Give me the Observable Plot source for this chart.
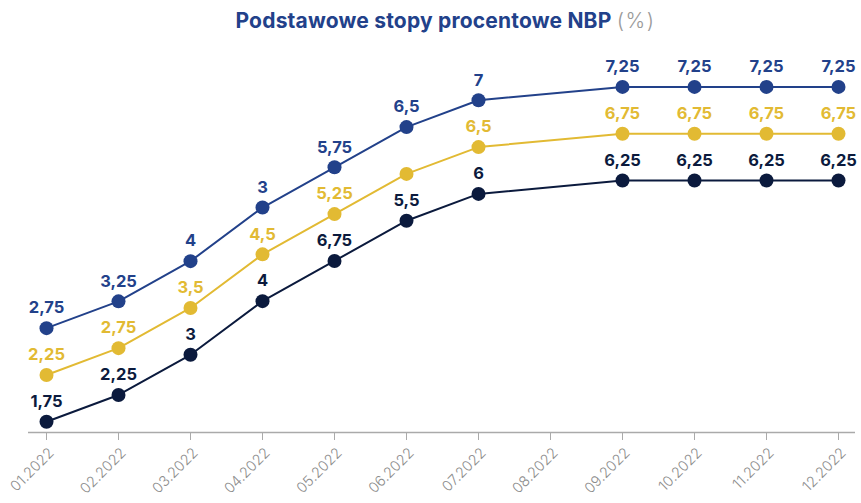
<!DOCTYPE html>
<html>
<head>
<meta charset="utf-8">
<script src="https://cdn.jsdelivr.net/npm/d3@7"></script>
<script src="https://cdn.jsdelivr.net/npm/@observablehq/plot@0.6"></script>
<style>
  html, body { margin: 0; padding: 0; background: #fff; }
  #wrap { width: 861px; }
  #title { height: 40px; line-height: 42px; text-align: center; font-family: Inter, "Noto Sans", sans-serif;
           font-size: 21px; font-weight: 700; color: #22418a; letter-spacing: 0.2px; padding-left: 30px; box-sizing: border-box; }
  #title span { font-weight: 300; color: #9a9a9a; letter-spacing: 1.5px; }
</style>
</head>
<body>
<div id="wrap">
  <div id="title">Podstawowe stopy procentowe NBP <span>(%)</span></div>
  <div id="chart"></div>
</div>
<script>
const months = ["01.2022","02.2022","03.2022","04.2022","05.2022","06.2022","07.2022","08.2022","09.2022","10.2022","11.2022","12.2022"];

const lombard   = [2.75, 3.25, 4,   5,   5.75, 6.5, 7,   null, 7.25, 7.25, 7.25, 7.25];
const reference = [2.25, 2.75, 3.5, 4.5, 5.25, 6,   6.5, null, 6.75, 6.75, 6.75, 6.75];
const deposit   = [1.75, 2.25, 3,   4,   4.75, 5.5, 6,   null, 6.25, 6.25, 6.25, 6.25];

const lombardLabels   = ["2,75","3,25","4","3","5,75","6,5","7","","7,25","7,25","7,25","7,25"];
const referenceLabels = ["2,25","2,75","3,5","4,5","5,25","","6,5","","6,75","6,75","6,75","6,75"];
const depositLabels   = ["1,75","2,25","3","4","6,75","5,5","6","","6,25","6,25","6,25","6,25"];

const series = [
  {name: "lombard",   values: lombard,   labels: lombardLabels,   color: "#22418a", shift: -40},
  {name: "reference", values: reference, labels: referenceLabels, color: "#e2ba33", shift: -20},
  {name: "deposit",   values: deposit,   labels: depositLabels,   color: "#0b1a3d", shift: 0}
];

const yMin = 1.55;
const font = "Inter, 'Noto Sans', sans-serif";

const marks = [];
marks.push(Plot.ruleY([yMin], {stroke: "#aaaaaa", strokeWidth: 1.3}));
marks.push(Plot.axisX({tickSize: 8, text: null, stroke: "#aaaaaa", label: null}));
marks.push(Plot.axisX({
  tickRotate: -45, tickSize: 0, tickPadding: 18, dx: 5, fill: "#8c8c8c",
  fontSize: 14.5, label: null, fontFamily: font, fontWeight: 300
}));
for (const s of series) {
  const rows = months.map((m, i) => ({month: m, value: s.values[i], label: s.labels[i]}))
                     .filter(d => d.value != null);
  marks.push(Plot.line(rows, {x: "month", y: "value", stroke: s.color, strokeWidth: 2, dy: s.shift}));
  marks.push(Plot.dot(rows, {x: "month", y: "value", fill: s.color, r: 7, dy: s.shift}));
  marks.push(Plot.text(rows, {x: "month", y: "value", text: "label", fill: s.color, dy: s.shift - 20,
    fontSize: 16.5, fontWeight: 700, fontFamily: font}));
}

const chart = Plot.plot({
  width: 861,
  height: 463,
  marginLeft: 28,
  marginRight: 6,
  marginTop: 140,
  marginBottom: 71,
  style: {fontFamily: font, background: "#fff"},
  x: {type: "point", domain: months, padding: 0.229},
  y: {domain: [yMin, 6.25], axis: null},
  marks
});
document.getElementById("chart").appendChild(chart);
</script>
</body>
</html>
